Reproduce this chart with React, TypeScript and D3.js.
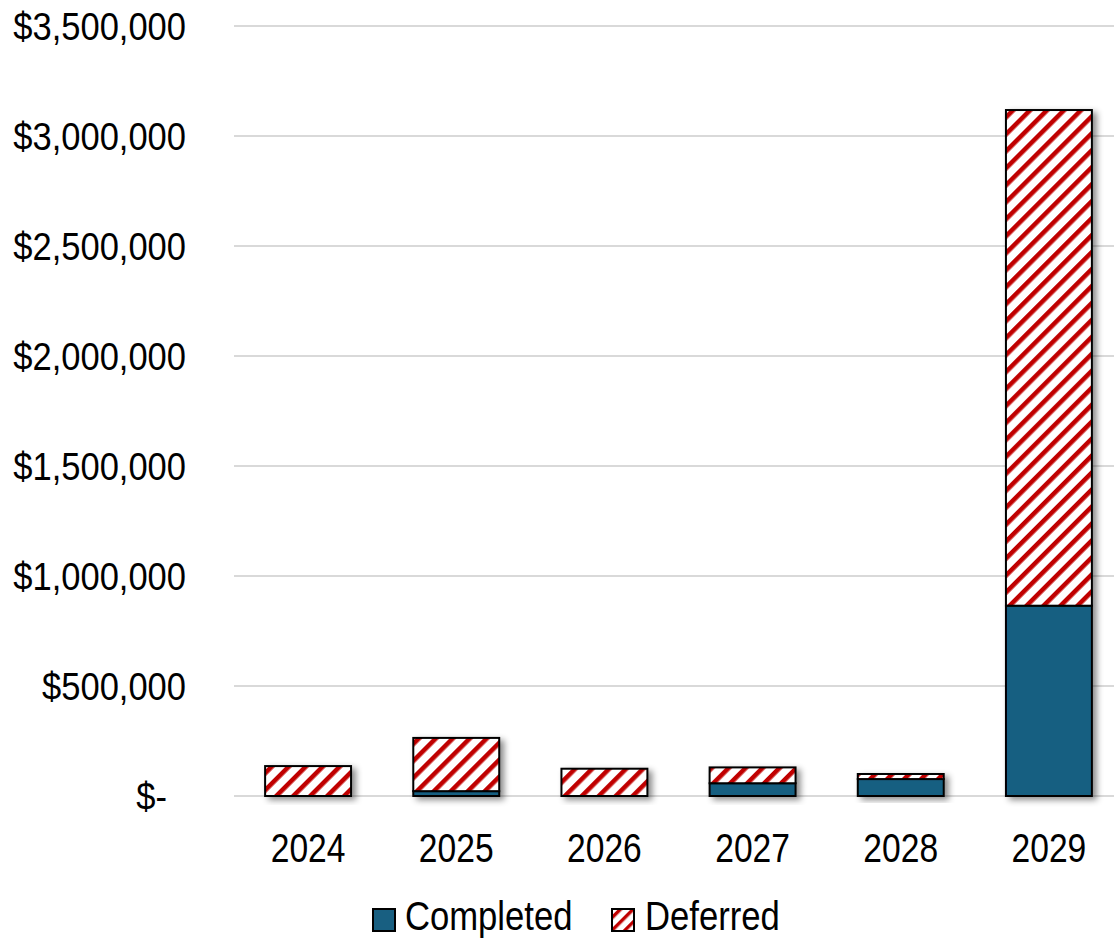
import React from "react";
import * as d3 from "d3";

// Spending by year, split into completed and deferred work
const years = ["2024", "2025", "2026", "2027", "2028", "2029"];
const completed = [0, 22000, 0, 58000, 77000, 865000];
const deferred = [136000, 242000, 124000, 72000, 23000, 2253000];
const yTicks = [0, 500000, 1000000, 1500000, 2000000, 2500000, 3000000, 3500000];
const seriesNames = ["Completed", "Deferred"];

const W = 1114;
const H = 940;
const BLUE = "#185F81";
const RED = "#C00000";
const FONT = "'Liberation Sans', Arial, sans-serif";

function Label(props: { x: number; y: number; anchor: string; size: number; squeeze: number; children: React.ReactNode }) {
  return (
    <text transform={`translate(${props.x},${props.y}) scale(${props.squeeze},1)`} dy="0.36em"
      textAnchor={props.anchor} fontFamily={FONT} fontSize={props.size} fill="#000">
      {props.children}
    </text>
  );
}

export default function App() {
  const x = d3.scaleBand<string>().domain(years).range([234, 1123]).padding(0);
  const barW = x.bandwidth() * 0.58;
  const y = d3.scaleLinear().domain([0, 3500000]).range([796, 26]);
  const fmt = d3.format("$,");
  const tickLabel = (v: number) => (v === 0 ? "$-" : fmt(v));

  const stacked = years.map((yr, i) => {
    const c = completed[i];
    const d = deferred[i];
    return { yr, segs: [
      { key: "c", y0: 0, y1: c, fill: BLUE },
      { key: "d", y0: c, y1: c + d, fill: "url(#stripes)" },
    ] };
  });

  return (
    <svg width={W} height={H} style={{ position: "absolute", left: 0, top: 0, background: "#fff" }}>
      <defs>
        <pattern id="stripes" patternUnits="userSpaceOnUse" width={12} height={12} patternTransform="rotate(45)">
          <rect width={12} height={12} fill="#fff" />
          <rect x={0} y={0} width={4.6} height={12} fill={RED} />
        </pattern>
        <pattern id="stripesSmall" patternUnits="userSpaceOnUse" width={9} height={9} patternTransform="rotate(45)">
          <rect width={9} height={9} fill="#fff" />
          <rect x={0} y={0} width={3.4} height={9} fill={RED} />
        </pattern>
        <filter id="shadow" x="-20%" y="-20%" width="150%" height="150%">
          <feDropShadow dx={4} dy={3} stdDeviation={3} floodColor="#000" floodOpacity={0.45} />
        </filter>
      </defs>

      {/* gridlines */}
      {yTicks.map((t) => (
        <line key={t} x1={234} x2={W} y1={y(t)} y2={y(t)} stroke="#d9d9d9" strokeWidth={2} />
      ))}

      {/* y-axis labels */}
      {yTicks.map((t) => (
        <Label key={t} x={t === 0 ? 167 : 186} y={y(t)} anchor="end" size={39} squeeze={0.885}>
          {tickLabel(t)}
        </Label>
      ))}

      {/* stacked bars */}
      {stacked.map((b) => {
        const cx = (x(b.yr) as number) + x.bandwidth() / 2;
        return (
          <g key={b.yr} filter="url(#shadow)">
            {b.segs.filter((s) => s.y1 > s.y0).map((s) => (
              <rect key={s.key} x={cx - barW / 2} width={barW} y={y(s.y1)} height={y(s.y0) - y(s.y1)}
                fill={s.fill} stroke="#000" strokeWidth={2} />
            ))}
          </g>
        );
      })}

      {/* x-axis labels */}
      {years.map((yr) => (
        <Label key={yr} x={(x(yr) as number) + x.bandwidth() / 2} y={847} anchor="middle" size={41} squeeze={0.82}>
          {yr}
        </Label>
      ))}

      {/* legend */}
      <g>
        <rect x={373} y={909} width={22} height={22} fill={BLUE} stroke="#000" strokeWidth={2} />
        <Label x={405} y={915} anchor="start" size={41} squeeze={0.845}>{seriesNames[0]}</Label>
        <rect x={612} y={909} width={22} height={22} fill="url(#stripesSmall)" stroke="#000" strokeWidth={2} />
        <Label x={645} y={915} anchor="start" size={41} squeeze={0.845}>{seriesNames[1]}</Label>
      </g>
    </svg>
  );
}
